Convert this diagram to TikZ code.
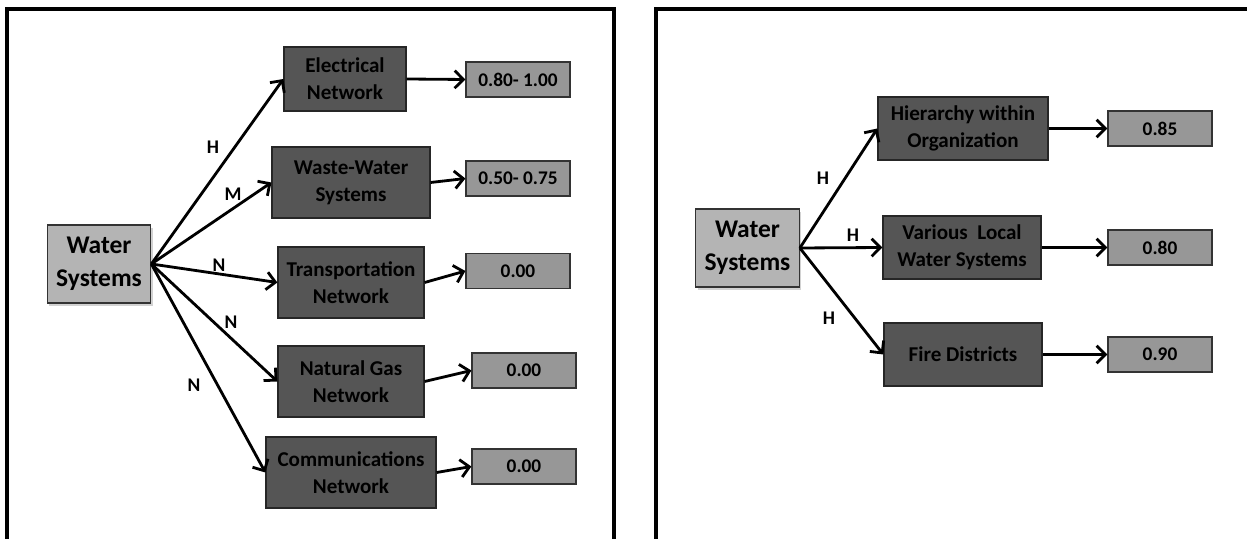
\documentclass[tikz,border=0pt]{standalone}
\usepackage{fontspec}
\setmainfont{Carlito}
\usetikzlibrary{positioning, arrows.meta, shadows}
\definecolor{wsFill}{HTML}{B4B4B4}
\definecolor{netFill}{HTML}{555555}
\definecolor{valFill}{HTML}{979797}

\begin{document}
\begin{tikzpicture}[sys/.style={draw=black!80, fill=wsFill, line width=0.7pt, align=center, inner sep=2pt, minimum width=2.07cm, minimum height=1.56cm, font=\fontsize{14.5}{19}\selectfont\bfseries, drop shadow={shadow xshift=1.2pt, shadow yshift=-1.8pt, opacity=0.35}},net/.style={draw=black!85, fill=netFill, line width=0.7pt, align=center, inner sep=2pt, font=\fontsize{12}{15.5}\selectfont\bfseries},val/.style={draw=black!80, fill=valFill, line width=0.7pt, minimum width=2.08cm, minimum height=0.70cm, inner sep=1pt, font=\fontsize{11}{12}\selectfont\bfseries},lbl/.style={font=\fontsize{11}{12}\selectfont\bfseries},arr/.style={-{Straight Barb[length=5pt, width=10pt]}, line width=1.6pt},panel/.style={line width=2.3pt}]
\useasboundingbox[fill=white] (0,0) rectangle (24.94,-10.78);
% two open frames
\draw[panel] (0.14,-10.78) -- (0.14,-0.18) -- (12.28,-0.18) -- (12.28,-10.78);
\draw[panel] (13.12,-10.78) -- (13.12,-0.18) -- (24.94,-0.18);
% left panel: infrastructure networks
\node[sys] (ws1) at (1.98,-5.28) {Water\\Systems};
\node[net, minimum width=2.44cm, minimum height=1.28cm] (el) at (6.90,-1.58) {Electrical\\Network};
\node[net, minimum width=3.16cm, minimum height=1.42cm] (ww) at (7.02,-3.65) {Waste-Water\\Systems};
\node[net, minimum width=2.92cm, minimum height=1.42cm] (tr) at (7.02,-5.65) {Transportation\\Network};
\node[net, minimum width=2.92cm, minimum height=1.42cm] (ng) at (7.02,-7.63) {Natural Gas\\Network};
\node[net, minimum width=3.40cm, minimum height=1.42cm] (cm) at (7.02,-9.45) {Communications\\Network};
\node[val] (v1) at (10.36,-1.59) {0.80- 1.00};
\node[val] (v2) at (10.36,-3.57) {0.50- 0.75};
\node[val] (v3) at (10.36,-5.42) {0.00};
\node[val] (v4) at (10.48,-7.41) {0.00};
\node[val] (v5) at (10.48,-9.33) {0.00};
\draw[arr] (ws1.east)--(el.west); \draw[arr] (ws1.east)--(ww.west); \draw[arr] (ws1.east)--(tr.west); \draw[arr] (ws1.east)--(ng.west); \draw[arr] (ws1.east)--(cm.west);
\draw[arr] (el.east)--(v1.west); \draw[arr] (ww.east)--(v2.west); \draw[arr] (tr.east)--(v3.west); \draw[arr] (ng.east)--(v4.west); \draw[arr] (cm.east)--(v5.west);
\node[lbl] (lel) at (4.26,-2.94) {H}; \node[lbl] (lww) at (4.66,-3.88) {M}; \node[lbl] (ltr) at (4.38,-5.30) {N}; \node[lbl] (lng) at (4.62,-6.44) {N}; \node[lbl] (lcm) at (3.88,-7.70) {N};
% right panel: water system links
\node[sys] (ws2) at (14.95,-4.96) {Water\\Systems};
\node[net, minimum width=3.40cm, minimum height=1.26cm] (hi) at (19.26,-2.57) {Hierarchy within\\Organization};
\node[net, minimum width=3.16cm, minimum height=1.26cm] (vl) at (19.24,-4.95) {Various~ Local\\Water Systems};
\node[net, minimum width=3.16cm, minimum height=1.26cm] (fd) at (19.26,-7.09) {Fire Districts};
\node[val] (v6) at (23.20,-2.57) {0.85};
\node[val] (v7) at (23.20,-4.95) {0.80};
\node[val] (v8) at (23.20,-7.09) {0.90};
\draw[arr] (ws2.east)--(hi.west); \draw[arr] (ws2.east)--(vl.west); \draw[arr] (ws2.east)--(fd.west);
\draw[arr] (hi.east)--(v6.west); \draw[arr] (vl.east)--(v7.west); \draw[arr] (fd.east)--(v8.west);
\node[lbl] (lhi) at (16.46,-3.56) {H}; \node[lbl] (lvl) at (17.06,-4.70) {H}; \node[lbl] (lfd) at (16.58,-6.36) {H};
\end{tikzpicture}
\end{document}
